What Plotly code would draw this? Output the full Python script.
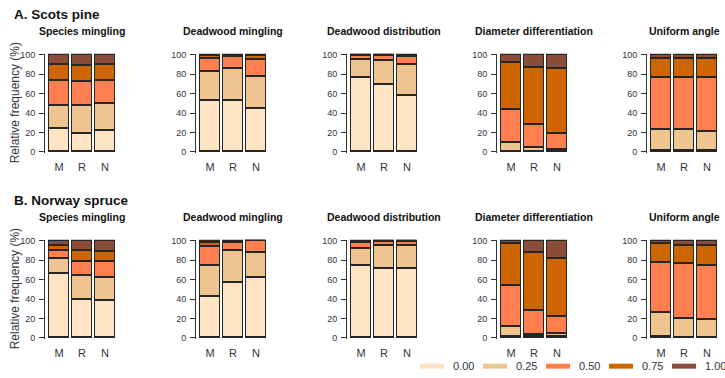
import plotly.graph_objects as go

# Stand-structure indices: relative frequency (%) of each index class
# for the three stand types M, R and N.
categories = ["M", "R", "N"]
classes = ["0.00", "0.25", "0.50", "0.75", "1.00"]
class_colors = ["#FFE4C4", "#EEC591", "#FF7F50", "#CD6600", "#8B4C39"]
panel_titles = ["Species mingling", "Deadwood mingling", "Deadwood distribution",
                "Diameter differentiation", "Uniform angle"]
row_titles = ["A. Scots pine", "B. Norway spruce"]
y_ticks = [0, 20, 40, 60, 80, 100]

# Each list holds one bar: shares of classes 0.00 .. 1.00
pine_species_mingling = {"M": [23.5, 24.5, 25, 17, 10], "R": [19, 29, 24, 17, 11], "N": [21.5, 28.5, 23, 16.5, 10.5]}
pine_deadwood_mingling = {"M": [52.5, 30, 14, 3, 0.5], "R": [52.5, 33.5, 12, 1.5, 0.5], "N": [44, 33.5, 18, 3.5, 1]}
pine_deadwood_distribution = {"M": [76.5, 19, 3.5, 1, 0], "R": [69, 25, 5, 1, 0], "N": [57.5, 32, 8.5, 1.5, 0.5]}
pine_diameter_diff = {"M": [0.5, 9, 33.5, 49, 8], "R": [0.5, 4, 23.5, 58.5, 13.5], "N": [1, 1, 16.5, 67, 14.5]}
pine_uniform_angle = {"M": [1, 21.5, 53.5, 20.5, 3.5], "R": [1, 21.5, 53.5, 20.5, 3.5], "N": [1, 20, 55.5, 20, 3.5]}

spruce_species_mingling = {"M": [66, 16, 8, 5.5, 4.5], "R": [39.5, 24.5, 15, 10.5, 10.5], "N": [38, 24.5, 16, 10.5, 11]}
spruce_deadwood_mingling = {"M": [42, 32.5, 19.5, 4, 2], "R": [57, 33, 8, 1.5, 0.5], "N": [62.5, 25, 12.5, 0, 0]}
spruce_deadwood_distribution = {"M": [74, 18, 6, 0.5, 1.5], "R": [71.5, 23.5, 4, 1, 0], "N": [71.5, 24, 3.5, 1, 0]}
spruce_diameter_diff = {"M": [1, 10, 43, 43.5, 2.5], "R": [1, 2.5, 24.5, 60, 12], "N": [1.5, 3, 17, 60.5, 18]}
spruce_uniform_angle = {"M": [1.5, 24, 51.5, 20.5, 2.5], "R": [0.5, 19, 56.5, 19.5, 4.5], "N": [0.5, 18, 55.5, 21, 5]}

rows = [
    [pine_species_mingling, pine_deadwood_mingling, pine_deadwood_distribution,
     pine_diameter_diff, pine_uniform_angle],
    [spruce_species_mingling, spruce_deadwood_mingling, spruce_deadwood_distribution,
     spruce_diameter_diff, spruce_uniform_angle],
]

W, H = 725, 378
FONT = "Liberation Sans"
OUTLINE = "#262626"
LABEL = "#333340"

# page layout (pixels)
col_first_center = [59, 210, 361, 511, 661]   # centre of the first bar in each column
pitch = 23                                     # distance between bar centres
bar_w = 20
row_y100 = [52, 242]                           # pixel row of value 100
row_y0 = [151, 341]                            # pixel row of value 0

fig = go.Figure()
layout_axes = {}

for r, row in enumerate(rows):
    for c, panel in enumerate(row):
        idx = r * 5 + c + 1
        xa = "x" if idx == 1 else f"x{idx}"
        ya = "y" if idx == 1 else f"y{idx}"
        for k, cls in enumerate(classes):
            fig.add_trace(go.Bar(
                x=[0, 1, 2],
                y=[panel[cat][k] for cat in categories],
                width=bar_w / pitch,
                marker=dict(color=class_colors[k], line=dict(color=OUTLINE, width=1.5)),
                name=cls, showlegend=False, hoverinfo="skip",
                xaxis=xa, yaxis=ya,
            ))

        c0 = col_first_center[c]
        left_px = c0 - 14
        right_px = c0 + 2 * pitch + 12
        xr = [(left_px - c0) / pitch, (right_px - c0) / pitch]

        ppu = (row_y0[r] - row_y100[r]) / 100.0
        top_px = row_y100[r] - 1.2 * ppu
        bot_px = row_y0[r] + 1.2 * ppu

        layout_axes["xaxis" if idx == 1 else f"xaxis{idx}"] = dict(
            domain=[left_px / W, right_px / W], range=xr, anchor=ya,
            tickmode="array", tickvals=[0, 1, 2], ticktext=categories,
            showgrid=False, zeroline=False, showline=False, ticks="",
            tickfont=dict(size=11, color=LABEL, family=FONT),
            ticklabelstandoff=6, fixedrange=True,
        )
        layout_axes["yaxis" if idx == 1 else f"yaxis{idx}"] = dict(
            domain=[1 - bot_px / H, 1 - top_px / H], range=[-1.2, 101.2], anchor=xa,
            tickmode="array", tickvals=y_ticks,
            showgrid=False, zeroline=False, showline=True, linecolor="#333333", linewidth=1,
            ticks="outside", ticklen=5, tickcolor="#333333", tickwidth=1,
            tickfont=dict(size=9, color=LABEL, family=FONT),
            ticklabelstandoff=2, fixedrange=True,
        )

annotations = []
shapes = []
for r in range(2):
    annotations.append(dict(
        text=f"<b>{row_titles[r]}</b>", x=12 / W, y=1 - (11 + 190 * r) / H,
        xref="paper", yref="paper", xanchor="left", yanchor="middle",
        showarrow=False, font=dict(size=13.5, color="#111111", family=FONT),
    ))
    annotations.append(dict(
        text="Relative frequency (%)", x=15 / W,
        y=1 - ((row_y0[r] + row_y100[r]) / 2) / H,
        xref="paper", yref="paper", xanchor="center", yanchor="middle",
        textangle=-90, showarrow=False, font=dict(size=12, color=LABEL, family=FONT),
    ))
    for c in range(5):
        cx = col_first_center[c] + pitch
        annotations.append(dict(
            text=f"<b>{panel_titles[c]}</b>", x=cx / W, y=1 - (28 + 190 * r) / H,
            xref="paper", yref="paper", xanchor="center", yanchor="middle",
            showarrow=False, font=dict(size=10.5, color="#111111", family=FONT),
        ))

# key along the bottom edge: thick line sample followed by the class label
key_x0, key_step, key_y = 420, 63, 370
for k, (cls, col) in enumerate(zip(classes, class_colors)):
    x0 = key_x0 + k * key_step
    shapes.append(dict(
        type="line", xref="paper", yref="paper",
        x0=x0 / W, x1=(x0 + 24) / W, y0=1 - key_y / H, y1=1 - key_y / H,
        line=dict(color=col, width=5),
    ))
    annotations.append(dict(
        text=cls, x=(x0 + 31) / W, y=1 - key_y / H,
        xref="paper", yref="paper", xanchor="left", yanchor="middle",
        showarrow=False, font=dict(size=11, color=LABEL, family=FONT),
    ))

fig.update_layout(
    width=W, height=H, autosize=False,
    margin=dict(l=0, r=0, t=0, b=0),
    paper_bgcolor="white", plot_bgcolor="white",
    barmode="stack", bargap=0,
    font=dict(family=FONT, color=LABEL),
    annotations=annotations,
    shapes=shapes,
    showlegend=False,
    **layout_axes,
)

fig.write_html("out.html")
